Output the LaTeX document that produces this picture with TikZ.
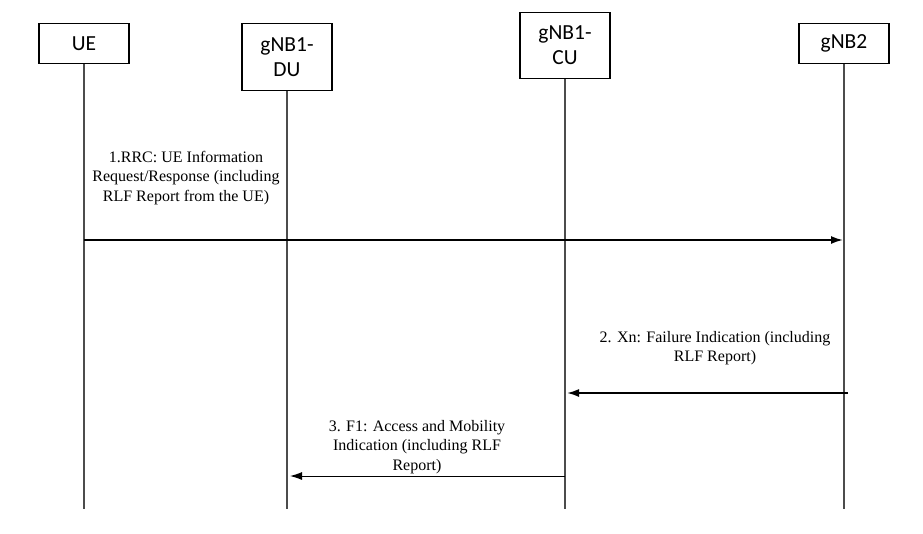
\documentclass[tikz,border=0pt]{standalone}
\usepackage{fontspec}
\setmainfont{Liberation Serif}
\newfontfamily\boxfont{Carlito}
\usetikzlibrary{arrows.meta, positioning, calc}

\begin{document}
\begin{tikzpicture}[
    x=1pt, y=-1pt,
    entity/.style={
        draw=black,
        rectangle,
        minimum width=90pt,
        inner sep=0pt,
        line width=1.3pt,
        align=center,
        anchor=north,
        font=\boxfont\fontsize{21.5}{25}\selectfont
    },
    lifeline/.style={
        line width=1.1pt,
        draw=black!70
    },
    msg/.style={
        -{Latex[length=12pt,width=8pt]},
        line width=1.8pt,
        draw=black
    },
    thinmsg/.style={
        -{Latex[length=12pt,width=8pt]},
        line width=1pt,
        draw=black
    },
    label/.style={
        align=center,
        inner sep=0pt,
        font=\fontsize{16}{19.5}\selectfont
    }
]

\useasboundingbox (0,0) rectangle (923,533);

% ============================================================
% Entities and lifelines
% ============================================================

\node[entity, minimum height=40pt] (ue)   at (84,23)  {UE};
\node[entity, minimum height=67pt] (du)   at (287,23) {gNB1-\\DU};
\node[entity, minimum height=66pt] (cu)   at (565,12) {gNB1-\\CU};
\node[entity, minimum height=40pt] (gnb2) at (844,23) {gNB2};

\foreach \n in {ue,du,cu,gnb2} {
    \coordinate (\n-end) at (\n.south |- 0,509);
    \draw[lifeline] (\n.south) -- (\n-end);
}

% ============================================================
% Messages
% ============================================================

\coordinate (m1a) at (ue.south |- 0,240);
\coordinate (m1b) at ($(gnb2.south |- 0,240)+(-1,0)$);
\draw[msg] (m1a) -- (m1b);
\node[label] (t1) at (186,178) {1.RRC: UE Information\\Request/Response (including\\RLF Report from the UE)};

\coordinate (m2a) at ($(gnb2.south |- 0,393)+(4,0)$);
\coordinate (m2b) at ($(cu.south |- 0,393)+(2,0)$);
\draw[msg] (m2a) -- (m2b);
\node[label] (t2) at (715,348) {2. Xn: Failure Indication (including\\RLF Report)};

\coordinate (m3a) at (cu.south |- 0,476);
\coordinate (m3b) at ($(du.south |- 0,476)+(3,0)$);
\draw[thinmsg] (m3a) -- (m3b);
\node[label] (t3) at (417,447) {3. F1: Access and Mobility\\Indication (including RLF\\Report)};

\end{tikzpicture}
\end{document}
